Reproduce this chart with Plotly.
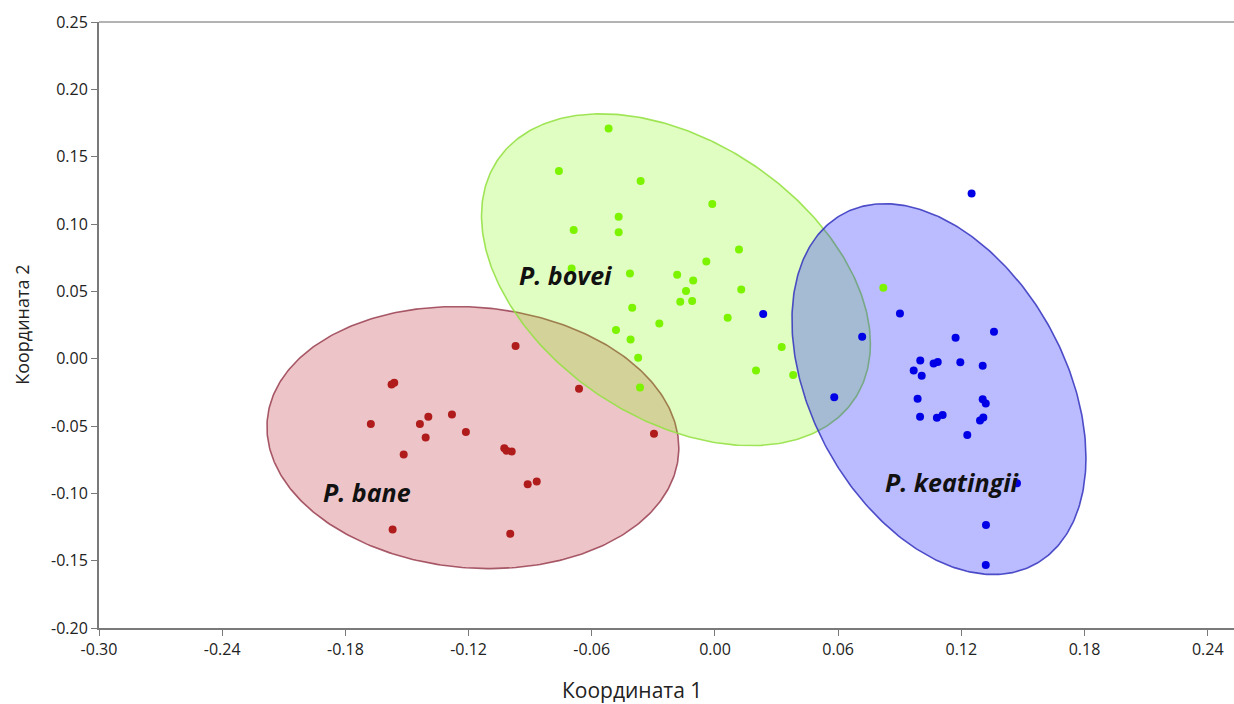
import numpy as np
import plotly.graph_objects as go

# --- Ordination scores (Coordinate 1, Coordinate 2) per species ---
bane_x = [-0.0971, -0.1575, -0.1562, -0.1676, -0.1437, -0.1396, -0.1281, -0.1213, -0.1409, -0.1516,
          -0.1026, -0.1015, -0.0990, -0.0912, -0.0868, -0.1570, -0.0997, -0.0662, -0.0297]
bane_y = [0.0094, -0.0191, -0.0178, -0.0485, -0.0485, -0.0431, -0.0414, -0.0545, -0.0586, -0.0711,
          -0.0666, -0.0683, -0.0690, -0.0933, -0.0913, -0.1269, -0.1301, -0.0223, -0.0557]

bovei_x = [-0.0518, -0.0760, -0.0362, -0.0013, -0.0469, -0.0469, -0.0688, 0.0117, -0.0042, -0.0698,
           -0.0414, -0.0184, -0.0106, -0.0141, 0.0128, -0.0169, -0.0111, -0.0403, 0.0062, -0.0271,
           -0.0482, -0.0411, 0.0325, -0.0374, 0.0200, 0.0381, -0.0365, 0.0820]
bovei_y = [0.1710, 0.1393, 0.1319, 0.1148, 0.1054, 0.0938, 0.0955, 0.0811, 0.0722, 0.0670,
           0.0633, 0.0624, 0.0581, 0.0503, 0.0514, 0.0423, 0.0428, 0.0379, 0.0304, 0.0262,
           0.0213, 0.0143, 0.0087, 0.0007, -0.0087, -0.0121, -0.0215, 0.0527]

keat_x = [0.1250, 0.0901, 0.0717, 0.1359, 0.1172, 0.0581, 0.1000, 0.1065, 0.1085, 0.1195,
          0.1304, 0.0968, 0.1007, 0.0987, 0.1304, 0.1319, 0.0999, 0.1081, 0.1109, 0.1291,
          0.1307, 0.1229, 0.1471, 0.1320, 0.1319, 0.0235]
keat_y = [0.1227, 0.0336, 0.0163, 0.0200, 0.0156, -0.0287, -0.0013, -0.0035, -0.0024, -0.0027,
          -0.0052, -0.0087, -0.0126, -0.0297, -0.0302, -0.0332, -0.0431, -0.0438, -0.0418, -0.0460,
          -0.0436, -0.0567, -0.0926, -0.1235, -0.1532, 0.0332]

species = ["P. bane", "P. bovei", "P. keatingii"]

# 95% ellipses: centre, half-extent along each axis, phase between x and y
ellipse_cx = [-0.1179, -0.0190, 0.1091]
ellipse_cy = [-0.0586, 0.0586, -0.0226]
ellipse_ax = [0.1003, 0.0947, 0.0716]
ellipse_by = [0.0973, 0.1232, 0.1377]
ellipse_phase_deg = [94.6, 112.7, 111.7]

x_ticks = [-0.30, -0.24, -0.18, -0.12, -0.06, 0.00, 0.06, 0.12, 0.18, 0.24]
y_ticks = [-0.20, -0.15, -0.10, -0.05, 0.00, 0.05, 0.10, 0.15, 0.20, 0.25]

# label anchor points (data coordinates)
label_x = [-0.1695, -0.0726, 0.1154]
label_y = [-0.0987, 0.0624, -0.0913]

point_colors = ["#b01c1c", "#7cf400", "#0000e6"]
fill_colors = ["rgba(190,40,50,0.27)", "rgba(130,250,0,0.24)", "rgba(20,20,255,0.29)"]
line_colors = ["rgba(140,40,60,0.75)", "rgba(150,225,70,0.9)", "rgba(50,50,190,0.85)"]

xs = [bane_x, bovei_x, keat_x]
ys = [bane_y, bovei_y, keat_y]

fig = go.Figure()

t = np.linspace(0, 2 * np.pi, 361)
for i in range(3):
    ph = np.deg2rad(ellipse_phase_deg[i])
    ex = ellipse_cx[i] + ellipse_ax[i] * np.cos(t)
    ey = ellipse_cy[i] + ellipse_by[i] * np.cos(t - ph)
    fig.add_trace(go.Scatter(
        x=ex, y=ey, mode="lines", fill="toself",
        fillcolor=fill_colors[i],
        line=dict(color=line_colors[i], width=1.6),
        hoverinfo="skip", showlegend=False,
    ))

for i in range(3):
    fig.add_trace(go.Scatter(
        x=xs[i], y=ys[i], mode="markers", name=species[i],
        marker=dict(size=8, color=point_colors[i], line=dict(width=0)),
        showlegend=False,
    ))

for i in range(3):
    fig.add_annotation(
        x=label_x[i], y=label_y[i], text="<b><i>%s</i></b>" % species[i],
        showarrow=False, font=dict(family="Open Sans", size=25, color="#111111"),
        xanchor="center", yanchor="middle",
    )

axis_font = dict(family="Open Sans", size=16, color="#222222")

fig.update_xaxes(
    range=[-0.30, 0.2528], tickvals=x_ticks,
    ticktext=["%.2f" % v for v in x_ticks],
    showgrid=False, zeroline=False,
    showline=True, linecolor="#7a7a7a", linewidth=2,
    ticks="outside", ticklen=6, tickcolor="#7a7a7a", tickwidth=1,
    tickfont=axis_font,
)
fig.update_yaxes(
    range=[-0.20, 0.25], tickvals=y_ticks,
    ticktext=["%.2f" % v for v in y_ticks],
    showgrid=False, zeroline=False,
    showline=True, linecolor="#7a7a7a", linewidth=2,
    ticks="outside", ticklen=6, tickcolor="#7a7a7a", tickwidth=1,
    tickfont=axis_font,
)

# top frame line
fig.add_shape(type="line", xref="paper", yref="paper", x0=0, x1=1, y0=1, y1=1,
              line=dict(color="#9a9a9a", width=1.5))

# axis titles
fig.add_annotation(xref="paper", yref="paper", x=(632 - 99) / (1234 - 99), y=-0.102,
                   text="Координата 1", showarrow=False, yanchor="middle",
                   font=dict(family="Open Sans", size=21, color="#222222"))
fig.add_annotation(xref="paper", yref="paper", x=-0.068, y=0.5,
                   text="Координата 2", showarrow=False, textangle=-90,
                   xanchor="center", yanchor="middle",
                   font=dict(family="Open Sans", size=18, color="#222222"))

fig.update_layout(
    width=1234, height=704,
    margin=dict(l=99, r=0, t=22, b=76),
    paper_bgcolor="white", plot_bgcolor="white",
)

fig.write_html("out.html")
